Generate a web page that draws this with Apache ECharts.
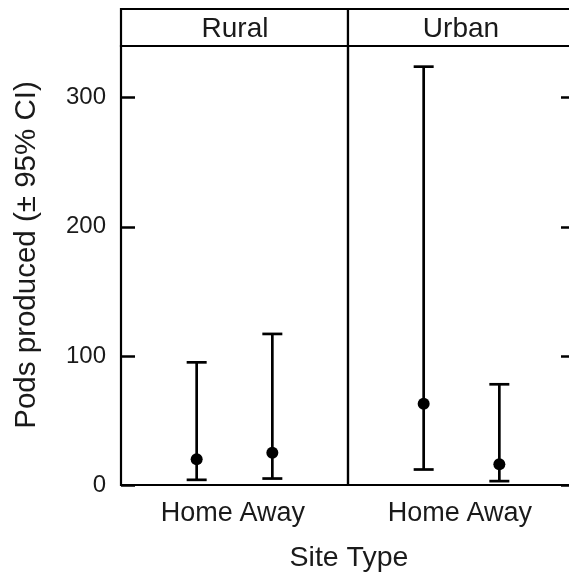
<!DOCTYPE html>
<html><head><meta charset="utf-8">
<script src="https://cdn.jsdelivr.net/npm/echarts@6/dist/echarts.min.js"></script>
<style>html,body{margin:0;padding:0;background:#fff}#c{width:569px;height:578px}</style>
</head><body><div id="c"></div>
<script>
const panels = ['Rural', 'Urban'];
const categories = ['Home', 'Away'];
const yTicks = [0, 100, 200, 300];
const ruralMean = [20, 25];
const ruralLower = [4, 5];
const ruralUpper = [95, 117];
const urbanMean = [63, 16];
const urbanLower = [12, 3];
const urbanUpper = [324, 78];
const yTitle = 'Pods produced (± 95% CI)';
const xTitle = 'Site Type';

const FONT = 'Liberation Sans';
const TXT = '#1a1a1a';
const P = [{left: 121, width: 227}, {left: 348, width: 227}];
const TOP = 46, HEIGHT = 439, STRIP_TOP = 9;

function rows(mean, lo, hi) {
  return categories.map((c, i) => [i + 1, mean[i], lo[i], hi[i]]);
}
function renderErr(params, api) {
  const x = api.value(0);
  const m = api.coord([x, api.value(1)]);
  const l = api.coord([x, api.value(2)]);
  const h = api.coord([x, api.value(3)]);
  const cw = 10;
  const st = {stroke: '#000', lineWidth: 2.7};
  return {type: 'group', children: [
    {type: 'line', shape: {x1: l[0], y1: l[1], x2: h[0], y2: h[1]}, style: st},
    {type: 'line', shape: {x1: l[0] - cw, y1: l[1], x2: l[0] + cw, y2: l[1]}, style: st},
    {type: 'line', shape: {x1: h[0] - cw, y1: h[1], x2: h[0] + cw, y2: h[1]}, style: st},
    {type: 'circle', shape: {cx: m[0], cy: m[1], r: 6}, style: {fill: '#000'}}
  ]};
}
const data = [rows(ruralMean, ruralLower, ruralUpper), rows(urbanMean, urbanLower, urbanUpper)];

const option = {
  animation: false,
  backgroundColor: '#fff',
  grid: P.map(p => ({left: p.left, width: p.width, top: TOP, height: HEIGHT, show: true,
    outerBoundsMode: 'none', containLabel: false,
    borderColor: '#000', borderWidth: 2.2, backgroundColor: 'transparent'})),
  xAxis: P.map((p, i) => ({
    type: 'value', gridIndex: i, min: 0, max: 3, interval: 1,
    axisLine: {show: false, onZero: false}, axisTick: {show: false}, splitLine: {show: false},
    axisLabel: {fontFamily: FONT, fontSize: 27, color: TXT, margin: 15,
      formatter: v => categories[v - 1] || ''}
  })),
  yAxis: P.map((p, i) => ({
    type: 'value', gridIndex: i, min: 0, max: 340, interval: 100,
    position: i === 0 ? 'left' : 'right',
    axisLine: {show: false, onZero: false}, splitLine: {show: false},
    axisTick: {show: true, inside: true, length: 14, lineStyle: {color: '#000', width: 2.5},
      customValues: yTicks},
    axisLabel: {show: i === 0, fontFamily: FONT, fontSize: 24, color: TXT, margin: 15,
      customValues: yTicks}
  })),
  graphic: [
    ...P.map((p, i) => ({type: 'rect', shape: {x: p.left, y: STRIP_TOP, width: p.width, height: TOP - STRIP_TOP},
      style: {fill: '#fff', stroke: '#000', lineWidth: 2.2}, z: 10})),
    ...P.map((p, i) => ({type: 'text', x: [235, 461][i], y: 29, z: 11,
      style: {text: panels[i], font: '28px "' + FONT + '"', fill: TXT, textAlign: 'center', textVerticalAlign: 'middle'}})),
    {type: 'text', x: 349, y: 558, style: {text: xTitle, font: '28.5px "' + FONT + '"', fill: TXT,
      textAlign: 'center', textVerticalAlign: 'middle'}},
    {type: 'text', x: 27, y: 255, rotation: Math.PI / 2, style: {text: yTitle, font: '29.5px "' + FONT + '"', fill: TXT,
      textAlign: 'center', textVerticalAlign: 'middle'}}
  ],
  series: data.map((d, i) => ({
    type: 'custom', xAxisIndex: i, yAxisIndex: i, data: d, renderItem: renderErr, clip: false
  }))
};
echarts.init(document.getElementById('c')).setOption(option);
</script></body></html>
